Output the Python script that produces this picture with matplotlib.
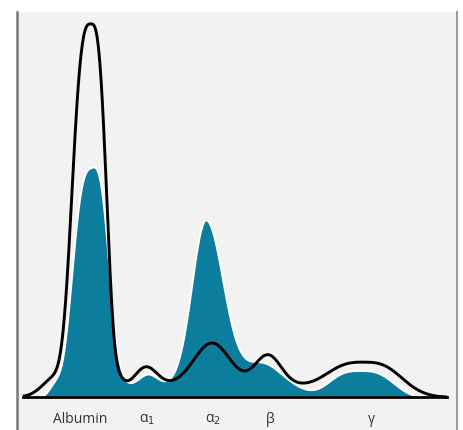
import numpy as np
import matplotlib
matplotlib.use("Agg")
import matplotlib.pyplot as plt

# Fractions (x = position along the strip, y = height above baseline)
fractions = ['prealbumin', 'albumin', 'albumin tail', 'alpha1', 'alpha2', 'beta', 'gamma', 'background']

# normal serum (black outline)
normal_center = [56, 91, 120, 146, 212, 268, 365, 265]
normal_height = [20, 372, 8, 19, 42, 30, 23, 12]
normal_wl = [13, 17.5, 5, 11, 18, 13, 34, 145]
normal_wr = [13, 14.5, 5, 11, 18, 13, 31, 145]
normal_pl = [2, 3, 2, 2, 2, 2, 3, 10]
normal_pr = [2, 3, 2, 2, 2, 2, 3, 10]

# patient serum (teal fill)
patient_center = [55, 91.5, 118, 148, 205.7, 262, 360, 200]
patient_height = [12, 225, 8, 11, 165, 22, 26.5, 12]
patient_wl = [6, 18.5, 6, 9, 14, 18, 30, 100]
patient_wr = [6, 16, 6, 9, 17.5, 18, 31, 100]
patient_pl = [2, 3, 2, 2, 2, 2, 3, 8]
patient_pr = [2, 3, 2, 2, 2, 2, 3, 8]

labels = ['Albumin', 'α$_1$', 'α$_2$', 'β', 'γ']
label_x = [80.5, 147, 213, 270, 371]


def peak(x, c, h, wl, wr, pl, pr):
    d = x - c
    w = np.where(d < 0, wl, wr)
    p = np.where(d < 0, pl, pr)
    return h * np.exp(-0.5 * np.abs(d / w) ** p)


def trace(x, cs, hs, wls, wrs, pls, prs):
    y = np.zeros_like(x)
    for c, h, wl, wr, pl, pr in zip(cs, hs, wls, wrs, pls, prs):
        y += peak(x, c, h, wl, wr, pl, pr)
    return y


x = np.linspace(23, 447, 1500)
y_norm = trace(x, normal_center, normal_height, normal_wl, normal_wr, normal_pl, normal_pr)
y_pat = trace(x, patient_center, patient_height, patient_wl, patient_wr, patient_pl, patient_pr)

fig = plt.figure(figsize=(4.63, 4.31), dpi=100)
fig.patch.set_facecolor('white')
ax = fig.add_axes([17 / 463, 0, 440 / 463, 418 / 431])
ax.set_facecolor('#f2f2f2')
ax.set_xlim(17, 457)
ax.set_ylim(-33, 385)

ax.fill_between(x, 0, y_pat, facecolor='#0c7d9c', edgecolor='white', linewidth=1.4, zorder=2)
ax.plot(x, y_norm, color='black', linewidth=2.1, zorder=3, solid_capstyle='butt')
ax.plot([23, 447], [0, 0], color='black', linewidth=2.0, zorder=4)

for lab, lx in zip(labels, label_x):
    ax.text(lx, -21.5, lab, ha='center', va='center', fontsize=10,
            family='Open Sans', color='#333333')

ax.set_xticks([])
ax.set_yticks([])
for s in ['top', 'bottom']:
    ax.spines[s].set_visible(False)
ax.spines['left'].set_color('#7a7a7a')
ax.spines['left'].set_linewidth(1.8)
ax.spines['right'].set_color('#9a9a9a')
ax.spines['right'].set_linewidth(1.5)

fig.savefig('out.png', dpi=100)
